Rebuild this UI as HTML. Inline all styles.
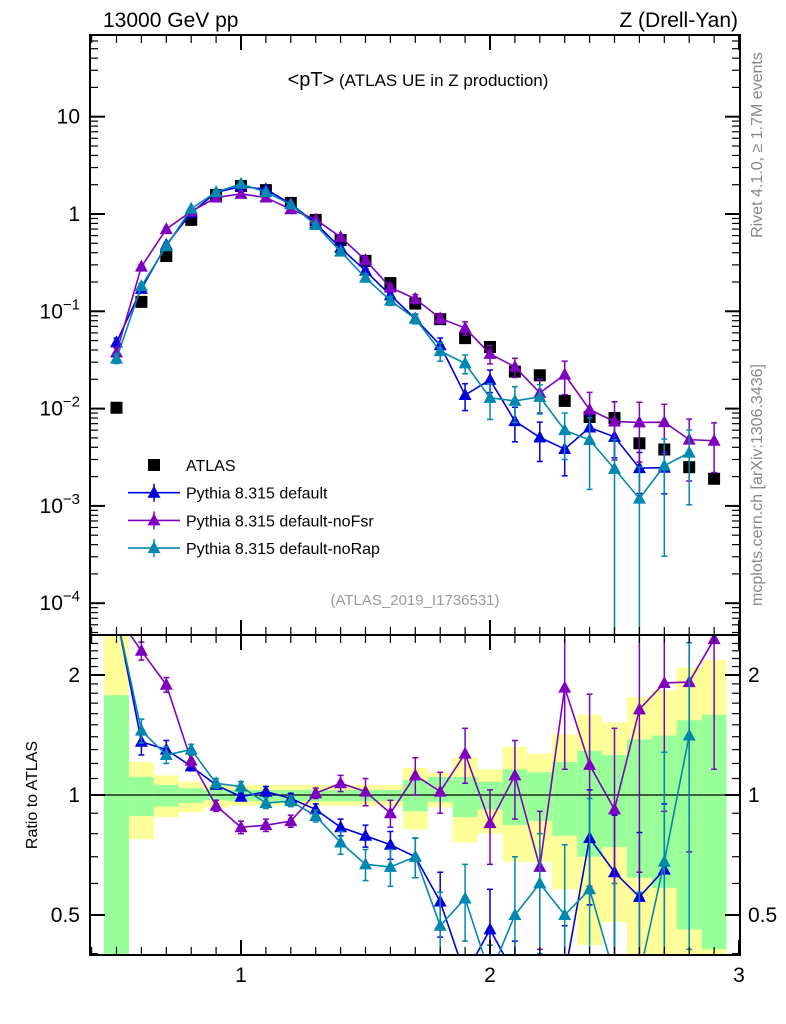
<!DOCTYPE html>
<html><head><meta charset="utf-8"><style>
html,body{margin:0;padding:0;background:#fff;width:786px;height:1024px;overflow:hidden;}
svg{display:block;font-family:"Liberation Sans",sans-serif;}
</style></head><body>
<svg id="c" width="786" height="1024" viewBox="0 0 786 1024" xmlns="http://www.w3.org/2000/svg"></svg>
<script>
const xs=[0.5,0.6,0.7,0.8,0.9,1.0,1.1,1.2,1.3,1.4,1.5,1.6,1.7,1.8,1.9,2.0,2.1,2.2,2.3,2.4,2.5,2.6,2.7,2.8,2.9];
const atlas=[0.0102,0.125,0.37,0.87,1.57,1.94,1.76,1.3,0.87,0.54,0.33,0.195,0.12,0.083,0.053,0.043,0.024,0.022,0.012,0.0082,0.008,0.0044,0.0038,0.0025,0.0019];
const rDefault=[4.7,1.36,1.30,1.18,1.06,0.99,1.02,0.98,0.92,0.83,0.79,0.75,0.70,0.54,0.26,0.46,0.31,0.23,0.32,0.78,0.64,0.555,0.65,null,null];
const eDefault=[0.5,0.1,0.07,0.03,0.02,0.02,0.03,0.03,0.03,0.04,0.05,0.06,0.08,0.1,0.08,0.12,0.12,0.1,0.15,0.25,0.25,0.25,0.3,0,0];
const rNoFsr=[3.7,2.3,1.89,1.22,0.94,0.83,0.84,0.86,1.01,1.07,1.02,0.90,1.12,1.02,1.27,0.85,1.12,0.66,1.86,1.19,0.92,1.64,1.91,1.92,2.46];
const eNoFsr=[0.4,0.12,0.08,0.04,0.03,0.03,0.03,0.03,0.03,0.05,0.08,0.07,0.12,0.12,0.2,0.18,0.25,0.25,0.7,0.6,0.55,1.0,1.0,1.2,1.3];
const rNoRap=[3.2,1.45,1.26,1.30,1.07,1.05,0.955,0.965,0.886,0.76,0.67,0.66,0.70,0.47,0.55,0.30,0.50,0.60,0.50,0.58,0.30,0.27,0.68,1.41,null];
const eNoRap=[0.35,0.1,0.06,0.04,0.03,0.03,0.03,0.03,0.03,0.05,0.06,0.07,0.08,0.1,0.12,0.12,0.2,0.2,0.25,0.4,0.3,0.3,0.6,1.0,0];
const yelUp=[3,1.21,1.12,1.08,1.06,1.06,1.06,1.06,1.06,1.06,1.06,1.06,1.17,1.14,1.24,1.16,1.32,1.27,1.42,1.59,1.52,1.76,1.83,2.09,2.18];
const yelDn=[0.3,0.775,0.88,0.905,0.93,0.94,0.94,0.94,0.94,0.94,0.94,0.94,0.82,0.93,0.76,0.8,0.68,0.68,0.58,0.42,0.48,0.3,0.3,0.3,0.3];
const grnUp=[1.78,1.11,1.06,1.04,1.03,1.03,1.03,1.03,1.03,1.03,1.03,1.03,1.09,1.11,1.11,1.08,1.16,1.14,1.21,1.29,1.26,1.38,1.41,1.54,1.59];
const grnDn=[0.3,0.885,0.935,0.955,0.97,0.965,0.965,0.965,0.965,0.965,0.965,0.965,0.91,0.96,0.88,0.92,0.84,0.86,0.79,0.70,0.74,0.62,0.585,0.46,0.41];
const mainTicks=[1,0,-1,-2,-3,-4];
const ratioTicks=[2,1,0.5];
const xTicks=[1,2,3];

const svg=document.getElementById('c');
const NS='http://www.w3.org/2000/svg';
function mk(t,a,p){const e=document.createElementNS(NS,t);for(const k in a)e.setAttribute(k,a[k]);(p||svg).appendChild(e);return e;}
const L=90,R=740,T=35,M=635,B=955;
const X=v=>241+(v-1)*249;
const cl=(y,a,b)=>Math.max(a-20,Math.min(b+20,y));
const YM=v=>cl(214-Math.log10(v)*97.3,T,M);
const YR=v=>cl(795-Math.log2(v)*120,M,B);
const clipM=mk('clipPath',{id:'cm'});mk('rect',{x:L,y:T,width:R-L,height:M-T},clipM);
const clipR=mk('clipPath',{id:'cr'});mk('rect',{x:L,y:M,width:R-L,height:B-M},clipR);

const gb=mk('g',{'clip-path':'url(#cr)'});

xs.forEach((x,i)=>{
 const y=mk('rect',{x:X(x-0.05),y:YR(yelUp[i]),width:X(x+0.05)-X(x-0.05),height:YR(yelDn[i])-YR(yelUp[i]),fill:'#ffff99'},gb);
 
 const g=mk('rect',{x:X(x-0.05),y:YR(grnUp[i]),width:X(x+0.05)-X(x-0.05),height:YR(grnDn[i])-YR(grnUp[i]),fill:'#99ff99'},gb);
 
});
mk('line',{x1:L,x2:R,y1:YR(1),y2:YR(1),stroke:'#000','stroke-width':1.3});

function tri(g,x,y,c){const p=mk('polygon',{points:`${x},${y-7} ${x-6.5},${y+5} ${x+6.5},${y+5}`,fill:c},g);}
function series(name,r,e,c){
 [['main','cm',YM],['ratio','cr',YR]].forEach(([pn,cp,Y])=>{
  const g=mk('g',{'clip-path':`url(#${cp})`});
  
  const val=i=>pn==='main'?r[i]*atlas[i]:r[i];
  let d='';
  xs.forEach((x,i)=>{if(r[i]==null)return;d+=(d?'L':'M')+X(x)+','+Y(val(i));});
  mk('path',{d,fill:'none',stroke:c,'stroke-width':1.6},g);
  xs.forEach((x,i)=>{if(r[i]==null)return;const v=val(i),rel=e[i]/r[i];
   const hi=v*(1+rel),lo=Math.max(v*(1-rel),1e-9);
   mk('line',{x1:X(x),x2:X(x),y1:Y(hi),y2:Y(lo),stroke:c,'stroke-width':1.5},g);
   mk('line',{x1:X(x)-3,x2:X(x)+3,y1:Y(hi),y2:Y(hi),stroke:c,'stroke-width':1.5},g);
   mk('line',{x1:X(x)-3,x2:X(x)+3,y1:Y(lo),y2:Y(lo),stroke:c,'stroke-width':1.5},g);
   tri(g,X(x),Y(v),c);});
 });
}
const ga=mk('g',{'clip-path':'url(#cm)'});

xs.forEach((x,i)=>{const s=mk('rect',{x:X(x)-6,y:YM(atlas[i])-6,width:12,height:12,fill:'#000'},ga);
 });
series('pythia-default',rDefault,eDefault,'#0000dd');
series('pythia-nofsr',rNoFsr,eNoFsr,'#7f00bf');
series('pythia-norap',rNoRap,eNoRap,'#0088b0');

[[T,M],[M,B]].forEach(([a,b])=>mk('rect',{x:L,y:a,width:R-L,height:b-a,fill:'none',stroke:'#000','stroke-width':2}));
for(let k=4;k<=30;k++){const v=k/10,maj=k%10===0;const len=maj?15:8;
 [[T,1],[M,-1],[M,1],[B,-1]].forEach(([y0,s])=>mk('line',{x1:X(v),x2:X(v),y1:y0,y2:y0+s*len,stroke:'#000','stroke-width':maj?2:1.2}));}
xTicks.forEach(v=>{const t=mk('text',{x:X(v),y:982,'font-size':21,'text-anchor':'middle'});t.textContent=v;
 });
const YMr=v=>214-Math.log10(v)*97.3, YRr=v=>795-Math.log2(v)*120;
for(let d=-5;d<=1;d++){for(let m=1;m<10;m++){const v=m*Math.pow(10,d),y=YMr(v);if(y<T||y>M)continue;
 const len=m===1?15:8;mk('line',{x1:L,x2:L+len,y1:y,y2:y,stroke:'#000','stroke-width':m===1?2:1.2});mk('line',{x1:R,x2:R-len,y1:y,y2:y,stroke:'#000','stroke-width':m===1?2:1.2});}}
mainTicks.forEach(p=>{const t=mk('text',{x:80,y:YMr(Math.pow(10,p))+7,'font-size':21,'text-anchor':'end'});
 
 if(p===1)t.textContent='10';else if(p===0)t.textContent='1';else{t.textContent='10';const s=mk('tspan',{dy:-9,'font-size':15},t);s.textContent='\u2212'+(-p);}});
for(let v=0.4;v<=2.5;v+=0.1){const y=YRr(v);if(y<M||y>B)continue;const maj=[0.5,1,2].some(q=>Math.abs(q-v)<1e-6);const len=maj?15:8;
 mk('line',{x1:L,x2:L+len,y1:y,y2:y,stroke:'#000','stroke-width':maj?2:1.2});mk('line',{x1:R,x2:R-len,y1:y,y2:y,stroke:'#000','stroke-width':maj?2:1.2});}
ratioTicks.forEach(v=>{[[80,'end'],[748,'start']].forEach(([x,a])=>{const t=mk('text',{x,y:YRr(v)+7,'font-size':21,'text-anchor':a});t.textContent=v;
 });});

function txt(s,a,name){const t=mk('text',a);t.textContent=s;return t;}
txt('13000 GeV pp',{x:103,y:27,'font-size':21},'energy-label');
txt('Z (Drell-Yan)',{x:738,y:27,'font-size':21,'text-anchor':'end'},'process-label');
const ti=txt('',{x:418,y:86,'font-size':17,'text-anchor':'middle'},'plot-title');
const t1=mk('tspan',{'font-size':20},ti);t1.textContent='<pT>';const t2=mk('tspan',{},ti);t2.textContent=' (ATLAS UE in Z production)';
txt('(ATLAS_2019_I1736531)',{x:415,y:605,'font-size':15,fill:'#999','text-anchor':'middle'},'analysis-id');
txt('Rivet 4.1.0, \u2265 1.7M events',{x:0,y:0,'font-size':16,fill:'#888','text-anchor':'middle',transform:'translate(762,145) rotate(-90)'},'rivet-label');
txt('mcplots.cern.ch [arXiv:1306.3436]',{x:0,y:0,'font-size':16,fill:'#888','text-anchor':'middle',transform:'translate(762,485) rotate(-90)'},'mcplots-label');
txt('Ratio to ATLAS',{x:0,y:0,'font-size':16,'text-anchor':'middle',transform:'translate(37,795) rotate(-90)'},'ratio-axis-title');
const lg=mk('g',{});
const ls=[['ATLAS',null],['Pythia 8.315 default','#0000dd'],['Pythia 8.315 default-noFsr','#7f00bf'],['Pythia 8.315 default-noRap','#0088b0']];
ls.forEach(([n,c],i)=>{const y=465+i*27.7;const e=mk('g',{},lg);
 if(!c)mk('rect',{x:148,y:y-6,width:12,height:12,fill:'#000'},e);
 else{mk('line',{x1:128,x2:180,y1:y,y2:y,stroke:c,'stroke-width':1.6},e);mk('line',{x1:154,x2:154,y1:y-9,y2:y+9,stroke:c,'stroke-width':1.5},e);tri(e,154,y,c);}
 const t=mk('text',{x:186,y:y+6,'font-size':16},e);t.textContent=n;});
</script>
</body></html>
